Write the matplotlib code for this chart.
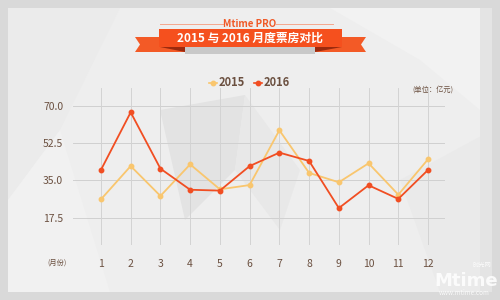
import matplotlib
matplotlib.use('Agg')
import matplotlib.pyplot as plt
from matplotlib.patches import Polygon, Rectangle
from matplotlib.lines import Line2D

plt.rcParams['font.family'] = ['Noto Sans CJK SC', 'DejaVu Sans']

# Данные
months = [1, 2, 3, 4, 5, 6, 7, 8, 9, 10, 11, 12]
box_2015 = [26.1, 41.7, 27.7, 42.5, 30.8, 32.8, 58.5, 38.5, 34.1, 43.0, 28.3, 44.9]
box_2016 = [39.9, 66.9, 40.5, 30.6, 30.2, 41.7, 48.0, 44.1, 22.0, 32.7, 26.3, 39.9]
yticks = [17.5, 35.0, 52.5, 70.0]

c15 = '#f9c66e'
c16 = '#f14e22'
brown = '#6b5040'

W, H = 500, 300


def px(x, y):
    # пиксели (от верхнего левого угла) -> доли фигуры
    return (x / W, 1 - y / H)


fig = plt.figure(figsize=(5, 3), dpi=100)
fig.patch.set_facecolor('#d9d9d9')

# фон-карточка
fig.patches.append(Rectangle(px(8, 292), 484 / W, 284 / H, transform=fig.transFigure,
                             facecolor='#eeeeee', edgecolor='none', zorder=0))
# полигоны фона
polys = [
    ([(8, 8), (120, 8), (60, 130), (8, 200)], '#ebebeb'),
    ([(160, 110), (245, 95), (235, 170), (185, 220)], '#e3e3e3'),
    ([(245, 95), (300, 170), (280, 230), (235, 170)], '#e8e8e8'),
    ([(8, 200), (60, 130), (110, 292), (8, 292)], '#f1f1f1'),
    ([(330, 8), (492, 8), (492, 120), (420, 60)], '#f2f2f2'),
    ([(400, 180), (492, 130), (492, 292), (440, 292)], '#eaeaea'),
    ([(480, 8), (492, 8), (492, 292), (480, 292)], '#e4e4e4'),
]
for pts, col in polys:
    fig.patches.append(Polygon([px(*p) for p in pts], closed=True, transform=fig.transFigure,
                               facecolor=col, edgecolor='none', zorder=0.5))

# оси
ax = fig.add_axes([73 / W, 55 / H, 372 / W, 157 / H])
ax.set_zorder(5)
ax.patch.set_alpha(0)
for s in ax.spines.values():
    s.set_visible(False)
ax.set_xlim(0.06, 12.57)
ax.set_ylim(4.7, 78.3)
ax.set_xticks(months)
ax.set_yticks(yticks)
ax.set_yticklabels([f'{v:.1f}' for v in yticks])
ax.tick_params(length=0, colors=brown, labelsize=7.5)
ax.tick_params(axis='x', pad=10)
ax.tick_params(axis='y', pad=7)
ax.grid(axis='x', color='#d3d3d3', lw=0.7)
for v in yticks:
    ax.axhline(v, color='#d0d0d0', lw=0.7, zorder=1)

ax.plot(months, box_2015, color=c15, lw=1.3, marker='o', ms=3.2, zorder=3)
ax.plot(months, box_2016, color=c16, lw=1.3, marker='o', ms=3.2, zorder=4)

# легенда
for x, col, lab in [(213, c15, '2015'), (258, c16, '2016')]:
    fx, fy = px(x, 83)
    fig.add_artist(Line2D([fx - 0.008, fx + 0.008], [fy, fy], color=col, lw=1.2,
                          transform=fig.transFigure))
    fig.add_artist(Line2D([fx], [fy], color=col, marker='o', ms=3.2, transform=fig.transFigure))
    fig.text(fx + 0.012, fy, lab, color=brown, fontsize=8, fontweight='bold', va='center', ha='left')

fig.text(*px(433, 90), '(单位：亿元)', color=brown, fontsize=5.2, ha='center', va='center')
fig.text(*px(57, 263), '(月份)', color=brown, fontsize=5.2, ha='center', va='center')

# лента заголовка
fig.patches.append(Polygon([px(*p) for p in [(185, 47), (315, 47), (315, 54), (185, 54)]],
                           transform=fig.transFigure, facecolor='#c8c8c8', edgecolor='none'))
fig.patches.append(Polygon([px(*p) for p in [(135, 37), (185, 37), (185, 52), (135, 52), (140, 44.5)]],
                           transform=fig.transFigure, facecolor='#f35a26', edgecolor='none'))
fig.patches.append(Polygon([px(*p) for p in [(315, 37), (366, 37), (361, 44.5), (366, 52), (315, 52)]],
                           transform=fig.transFigure, facecolor='#f35a26', edgecolor='none'))
fig.patches.append(Polygon([px(*p) for p in [(160, 47), (185, 47), (185, 52)]],
                           transform=fig.transFigure, facecolor='#9b2a0e', edgecolor='none'))
fig.patches.append(Polygon([px(*p) for p in [(315, 47), (342, 47), (315, 52)]],
                           transform=fig.transFigure, facecolor='#9b2a0e', edgecolor='none'))
fig.patches.append(Rectangle(px(159, 47), 183 / W, 18 / H, transform=fig.transFigure,
                             facecolor='#f5501e', edgecolor='none'))
fig.text(*px(250, 38.5), '2015 与 2016 月度票房对比', color='white', fontsize=8.5,
         fontweight='bold', ha='center', va='center')

fig.text(*px(250, 24), 'Mtime PRO', color='#f05a28', fontsize=7, fontweight='bold',
         ha='center', va='center')
for x0, x1 in [(160, 224), (276, 333)]:
    fig.add_artist(Line2D([x0 / W, x1 / W], [1 - 24 / H] * 2, color='#f5a68c', lw=0.7,
                          transform=fig.transFigure))

# водяной знак
fig.text(*px(466, 281), 'Mtime', color='white', alpha=0.85, fontsize=13, fontweight='bold',
         ha='center', va='center', family='DejaVu Sans')
fig.text(*px(482, 265), '时光网', color='white', alpha=0.85, fontsize=4.5, ha='center', va='center')
fig.text(*px(464, 293), 'www.mtime.com', color='white', alpha=0.85, fontsize=4.5,
         ha='center', va='center')

fig.savefig('out.png', dpi=100, facecolor=fig.get_facecolor())
